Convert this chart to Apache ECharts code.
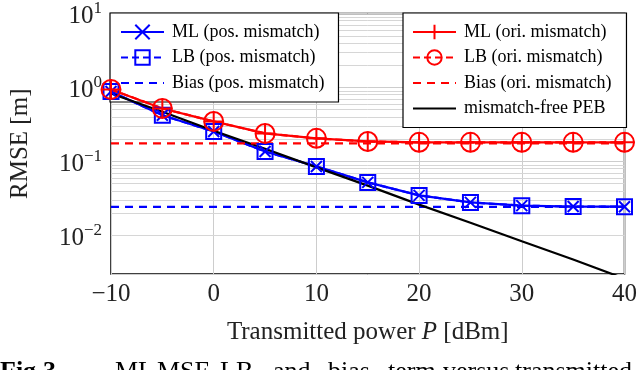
<!DOCTYPE html>
<html>
<head>
<meta charset="utf-8">
<script src="https://cdn.jsdelivr.net/npm/echarts@6/dist/echarts.min.js"></script>
<style>
  html, body { margin: 0; padding: 0; background: #fff; }
  #chart { width: 640px; height: 370px; }
</style>
</head>
<body>
<div id="chart"></div>
<script>
// transmitted power [dBm]
const powers = [-10, -5, 0, 5, 10, 15, 20, 25, 30, 35, 40]

// position mismatch
const mlPos = [0.88, 0.42, 0.254, 0.136, 0.0855, 0.052, 0.0347, 0.0279, 0.0252, 0.0245, 0.0244]
const lbPos = [0.88, 0.42, 0.254, 0.136, 0.0855, 0.052, 0.0347, 0.0279, 0.0252, 0.0245, 0.0244]
const biasPos = [0.0242, 0.0242, 0.0242, 0.0242, 0.0242, 0.0242, 0.0242, 0.0242, 0.0242, 0.0242, 0.0242]

// orientation mismatch
const mlOri = [0.94, 0.52, 0.347, 0.239, 0.205, 0.186, 0.181, 0.181, 0.181, 0.181, 0.181]
const lbOri = [0.94, 0.52, 0.347, 0.239, 0.205, 0.186, 0.181, 0.181, 0.181, 0.181, 0.181]
const biasOri = [0.175, 0.175, 0.175, 0.175, 0.175, 0.175, 0.175, 0.175, 0.175, 0.175, 0.175]

// mismatch-free PEB
const peb = [0.83, 0.47, 0.26, 0.148, 0.083, 0.047, 0.026, 0.0148, 0.0083, 0.0047, 0.0026]

// minor log grid lines (2..9 x 10^k)
const minorGrid = [
  0.004, 0.005, 0.006, 0.007, 0.008, 0.009,
  0.02, 0.03, 0.04, 0.05, 0.06, 0.07, 0.08, 0.09,
  0.2, 0.3, 0.4, 0.5, 0.6, 0.7, 0.8, 0.9,
  2, 3, 4, 5, 6, 7, 8, 9
]

const FONT = '"Liberation Serif", "DejaVu Serif", serif'
const BLUE = '#0000ff'
const RED = '#ff0000'

const crossPath = 'path://M0,0L10,10M0,10L10,0'
const plusPath = 'path://M5,0L5,10M0,5L10,5'
const rectPath = 'path://M0,0L10,0L10,10L0,10Z'
const circlePath = 'path://M5,0A5,5,0,1,1,5,10A5,5,0,1,1,5,0Z'

const pairs = (ys) => powers.map((x, i) => [x, ys[i]])

const chart = echarts.init(document.getElementById('chart'))

const lineSeries = (name, ys, color, opts) => Object.assign({
  name,
  type: 'line',
  data: pairs(ys),
  showSymbol: true,
  symbol: 'none',
  lineStyle: { color, width: 2.2 },
  itemStyle: { color: 'rgba(0,0,0,0)', borderColor: color, borderWidth: 2 },
  emphasis: { disabled: true },
  animation: false
}, opts)

// legend entries without marker (plain line icon)
const noMarker = (name) => ({ name, itemStyle: { opacity: 0 } })

const legendBase = {
  orient: 'vertical',
  top: 13,
  itemWidth: 43,
  itemHeight: 18,
  itemGap: 7.5,
  backgroundColor: '#fff',
  borderColor: '#000',
  borderWidth: 1.2,
  borderRadius: 0,
  z: 1,
  selectedMode: false,
  textStyle: { fontFamily: FONT, fontSize: 18, color: '#000', padding: [0, 0, 0, 3] }
}

const captionText = (text, x, bold) => ({
  type: 'text', x, y: 372,
  style: { text, font: (bold ? 'bold ' : '') + '26px ' + FONT, fill: '#000', verticalAlign: 'middle' }
})

const option = {
  backgroundColor: '#fff',
  animation: false,
  grid: {
    left: 110, right: 14, top: 13, bottom: 96,
    show: true, borderColor: '#000', borderWidth: 1.5
  },
  legend: [
    Object.assign({}, legendBase, {
      left: 110,
      padding: [10, 14, 10, 10],
      data: ['ML (pos. mismatch)', 'LB (pos. mismatch)', noMarker('Bias (pos. mismatch)')]
    }),
    Object.assign({}, legendBase, {
      left: 403,
      padding: [10, 15, 10, 9],
      data: ['ML (ori. mismatch)', 'LB (ori. mismatch)', noMarker('Bias (ori. mismatch)'), noMarker('mismatch-free PEB')]
    })
  ],
  xAxis: {
    type: 'value',
    min: -10, max: 40, interval: 10,
    name: '{n|Transmitted power }{i|P}{n| [dBm]}',
    nameLocation: 'middle',
    nameGap: 46,
    nameTextStyle: {
      rich: {
        n: { fontFamily: FONT, fontSize: 25, color: '#222' },
        i: { fontFamily: FONT, fontSize: 25, fontStyle: 'italic', color: '#222' }
      }
    },
    axisLine: { show: false },
    axisTick: { show: false },
    axisLabel: {
      margin: 8,
      fontFamily: FONT, fontSize: 25, color: '#222',
      formatter: v => v < 0 ? '\u2212' + (-v) : String(v)
    },
    splitLine: { show: true, lineStyle: { color: '#cdcdcd', width: 1 } }
  },
  yAxis: {
    type: 'log',
    logBase: 10,
    min: 0.003, max: 10,
    name: 'RMSE [m]',
    nameLocation: 'middle',
    nameRotate: 90,
    nameGap: 78,
    nameTextStyle: { fontFamily: FONT, fontSize: 25, color: '#222' },
    axisLine: { show: false },
    axisTick: { show: false },
    axisLabel: {
      margin: 9,
      formatter: v => {
        const l = Math.log10(v)
        const e = Math.round(l)
        if (Math.abs(l - e) > 1e-6) return ''
        return '{b|10}{s|' + (e < 0 ? '\u2212' + (-e) : e) + '}'
      },
      rich: {
        b: { fontFamily: FONT, fontSize: 25, color: '#222', padding: [6, 0, 0, 0] },
        s: { fontFamily: FONT, fontSize: 17, color: '#222', padding: [0, 0, 10, 0] }
      }
    },
    splitLine: { show: true, lineStyle: { color: '#cdcdcd', width: 1 } }
  },
  graphic: [
    captionText('Fig.', 0, true),
    captionText('3.', 43, true),
    captionText('ML', 115),
    captionText('MSE,', 157),
    captionText('LB,', 220),
    captionText('and', 273),
    captionText('bias', 328),
    captionText('term', 388),
    captionText('versus', 443),
    captionText('transmitted', 515)
  ],
  series: [
    {
      name: 'minor-grid',
      type: 'line',
      data: [],
      z: 0,
      silent: true,
      markLine: {
        z: 0,
        silent: true,
        animation: false,
        symbol: ['none', 'none'],
        label: { show: false },
        lineStyle: { color: '#d6d6d6', type: 'solid', width: 1 },
        data: minorGrid.map(v => ({ yAxis: v }))
      }
    },
    lineSeries('ML (pos. mismatch)', mlPos, BLUE, {
      symbol: crossPath, symbolSize: 11,
      itemStyle: { color: BLUE, borderColor: BLUE, borderWidth: 2 }
    }),
    lineSeries('LB (pos. mismatch)', lbPos, BLUE, {
      symbol: rectPath, symbolSize: 15,
      lineStyle: { color: BLUE, width: 2.2, type: [7, 4] }
    }),
    lineSeries('Bias (pos. mismatch)', biasPos, BLUE, {
      lineStyle: { color: BLUE, width: 2.2, type: [8, 6] }
    }),
    lineSeries('mismatch-free PEB', peb, '#000', {
      lineStyle: { color: '#000', width: 2.2 }
    }),
    lineSeries('ML (ori. mismatch)', mlOri, RED, {
      symbol: plusPath, symbolSize: 20,
      itemStyle: { color: RED, borderColor: RED, borderWidth: 2 }
    }),
    lineSeries('LB (ori. mismatch)', lbOri, RED, {
      symbol: circlePath, symbolSize: 19,
      lineStyle: { color: RED, width: 2.2, type: [7, 4] }
    }),
    lineSeries('Bias (ori. mismatch)', biasOri, RED, {
      lineStyle: { color: RED, width: 2.2, type: [8, 6] }
    })
  ]
}

chart.setOption(option)
</script>
</body>
</html>
